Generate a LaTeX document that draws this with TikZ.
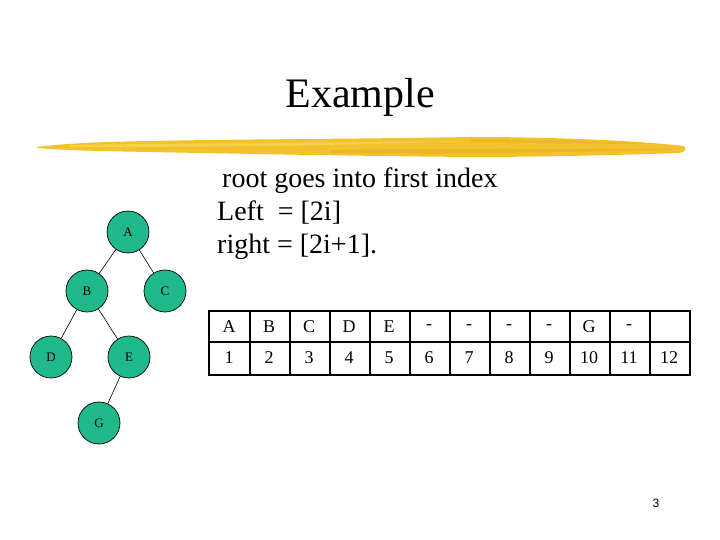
\documentclass[tikz,border=0pt]{standalone}
\usepackage{fontspec}
\setmainfont{Liberation Serif}
\newfontfamily\pagenumfont{Liberation Sans}
\definecolor{nodegreen}{HTML}{1FB98B}
\definecolor{brushA}{HTML}{F2C22C}
\definecolor{brushB}{HTML}{F8DA55}
\definecolor{brushC}{HTML}{E6A91E}
\begin{document}
\begin{tikzpicture}[x=1pt,y=-1pt,
  treenode/.style={circle,draw=black,line width=0.7pt,fill=nodegreen,minimum size=42pt,inner sep=0pt,font=\fontsize{13}{15}\selectfont},
  treeedge/.style={draw=black,line width=0.6pt},
  bodytext/.style={anchor=base west,inner sep=0pt,font=\fontsize{28}{33}\selectfont},
  celltext/.style={inner sep=0pt,font=\fontsize{18}{20}\selectfont},
  tableline/.style={draw=black,line width=1.6pt}]
\useasboundingbox (0,0) rectangle (720,540);
% title
\node[anchor=base,inner sep=0pt,font=\fontsize{42}{48}\selectfont] (title) at (360,108) {Example};
% brush stroke
\fill[brushA] (37,147) .. controls (60,144) and (90,142) .. (150,141)
  .. controls (250,139) and (360,139) .. (470,137)
  .. controls (560,137) and (640,141) .. (684,146)
  .. controls (686,149) and (686,151) .. (680,153)
  .. controls (620,155) and (540,157) .. (470,157)
  .. controls (360,156) and (250,154) .. (150,152)
  .. controls (90,151) and (60,150) .. (37,148) -- cycle;
\fill[brushB,opacity=0.7] (70,145) .. controls (200,143) and (330,143) .. (470,141)
  .. controls (330,146) and (200,147) .. (70,147) -- cycle;
\fill[brushC,opacity=0.5] (330,150) .. controls (450,148) and (560,149) .. (680,149)
  .. controls (560,153) and (450,154) .. (330,153) -- cycle;
\fill[brushC,opacity=0.4] (470,139) .. controls (540,139) and (600,141) .. (660,144)
  .. controls (600,144) and (540,143) .. (470,142) -- cycle;
% body text
\node[bodytext] (line1) at (222,188) {root goes into first index};
\node[bodytext] (line2) at (217,221) {Left\ \ = [2i]};
\node[bodytext] (line3) at (217,254) {right = [2i+1].};
% tree
\node[treenode] (A) at (128,232) {A};
\node[treenode] (B) at (87,291) {B};
\node[treenode] (C) at (165,291) {C};
\node[treenode] (D) at (51,357) {D};
\node[treenode] (E) at (129,357) {E};
\node[treenode] (G) at (99,423) {G};
\draw[treeedge] (A) -- (B);
\draw[treeedge] (A) -- (C);
\draw[treeedge] (B) -- (D);
\draw[treeedge] (B) -- (E);
\draw[treeedge] (E) -- (G);
% table
\draw[tableline] (209,311) rectangle (690,375);
\draw[tableline] (209,342) -- (690,342);
\foreach \xx in {250,290,330,370,410,450,490,530,570,610,650} {
  \draw[tableline] (\xx,311) -- (\xx,375);
}
\foreach \lab [count=\i] in {A,B,C,D,E,-,-,-,-,G,-,{}} {
  \node[celltext] (top\i) at ({209+40*(\i-1)+20},327) {\lab};
  \node[celltext] (bot\i) at ({209+40*(\i-1)+20},358) {\i};
}
% page number
\node[inner sep=0pt,font=\pagenumfont\fontsize{12}{14}\selectfont] (pagenum) at (656,503) {3};
\end{tikzpicture}
\end{document}
